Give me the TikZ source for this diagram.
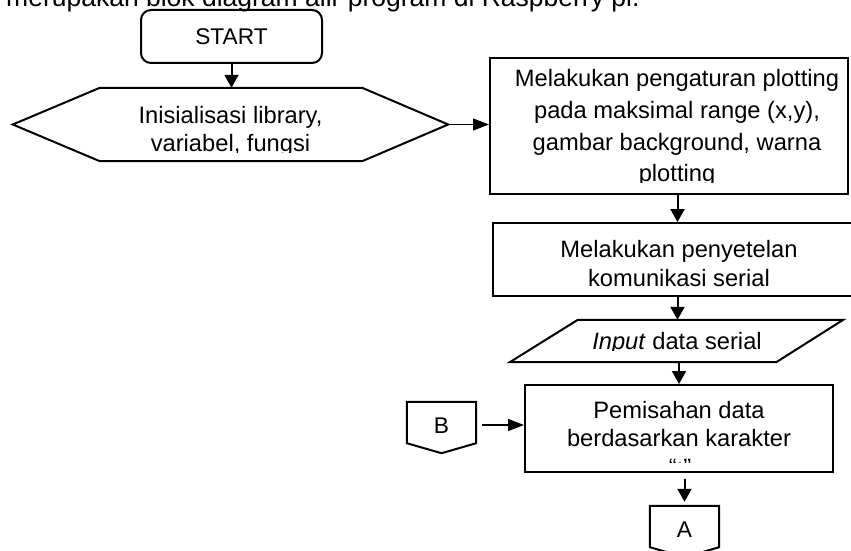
\documentclass[tikz,border=0pt]{standalone}
\usepackage{fontspec}
\setmainfont{Liberation Sans}
\usetikzlibrary{arrows.meta,calc}
\tikzset{
  shp/.style={draw, line width=2pt},
  ghost/.style={inner sep=0pt},
  txt/.style={font=\fontsize{23.7}{28}\selectfont, anchor=base, inner sep=0pt},
  arr/.style={line width=2pt, -{Triangle[width=14pt,length=13pt]}},
  tarr/.style={line width=1.2pt, -{Triangle[width=12pt,length=16pt]}},
}
\begin{document}
\begin{tikzpicture}[x=1pt,y=-1pt]
\useasboundingbox[fill=white] (0,0) rectangle (851,551);
\clip (0,0) rectangle (851,551);

% caption fragment (cut off at the top)
\node[font=\fontsize{26.5}{30}\selectfont, anchor=base west, inner sep=0pt] (cap) at (6,6.5)
  {merupakan blok diagram alir program di Raspberry pi.};

% START
\node[shp, rounded corners=10pt, minimum width=181pt, minimum height=53pt, inner sep=0pt,
      font=\fontsize{22.7}{27}\selectfont] (start) at (231.5,36.5) {START};

% hexagon (preparation)
\node[ghost, minimum width=435pt, minimum height=73pt] (hex) at (230.5,124.5) {};
\draw[shp] (hex.west) -- ($(hex.north west)+(87,0)$) -- ($(hex.north east)+(-86,0)$)
  -- (hex.east) -- ($(hex.south east)+(-86,0)$) -- ($(hex.south west)+(87,0)$) -- cycle;
\begin{scope}
  \clip (0,80) rectangle (460,152.5);
  \node[txt] at (230.5,123.3) {Inisialisasi library,};
  \node[txt] at (230.5,151.7) {variabel, fungsi};
\end{scope}

% box 1
\node[shp, minimum width=358pt, minimum height=136pt, inner sep=0pt] (box1) at (669,126) {};
\begin{scope}
  \clip (490,58) rectangle (851,182.8);
  \node[txt] at (677,86.7) {Melakukan pengaturan plotting};
  \node[txt] at (677,118.3) {pada maksimal range (x,y),};
  \node[txt] at (677,150) {gambar background, warna};
  \node[txt] at (677,181.5) {plotting};
\end{scope}

% box 2
\node[shp, minimum width=369pt, minimum height=73pt, inner sep=0pt] (box2) at (677.5,259.5) {};
\node[txt] at (679,257.5) {Melakukan penyetelan};
\node[txt] at (679,286.5) {komunikasi serial};

% parallelogram (input)
\node[ghost, minimum width=333pt, minimum height=42pt] (para) at (676.5,341) {};
\draw[shp] (para.south west) -- ($(para.north west)+(68,0)$) -- (para.north east)
  -- ($(para.south east)+(-67,0)$) -- cycle;
\begin{scope}
  \clip (500,318) rectangle (851,350.5);
  \node[txt] at (677,349.3) {\textit{Input} data serial};
\end{scope}

% box 3
\node[shp, minimum width=308pt, minimum height=87pt, inner sep=0pt] (pm) at (679,428.5) {};
\begin{scope}
  \clip (525,385) rectangle (833,462);
  \node[txt] at (679,418.3) {Pemisahan data};
  \node[txt] at (679,446.7) {berdasarkan karakter};
  \node[txt] at (680,475.1) {“;”};
\end{scope}

% off-page connector B
\node[ghost, minimum width=69pt, minimum height=41pt] (B) at (441.5,422.5) {};
\draw[shp] (B.south west) -- (B.north west) -- (B.north east) -- (B.south east)
  -- ($(B.south)+(0,10)$) -- cycle;
\node[font=\fontsize{22.7}{27}\selectfont, inner sep=0pt] (Bt) at (441.5,426) {B};

% off-page connector A
\node[ghost, minimum width=69pt, minimum height=41pt] (A) at (684.5,526.5) {};
\draw[shp] (A.south west) -- (A.north west) -- (A.north east) -- (A.south east)
  -- ($(A.south)+(0,10)$) -- cycle;
\node[font=\fontsize{22.7}{27}\selectfont, inner sep=0pt] (At) at (684.5,530) {A};

% connectors
\draw[arr] (start.south) -- (start.south |- hex.north);
\draw[tarr] (hex.east) -- (hex.east -| box1.west);
\draw[arr] (box1.south -| box2.north) -- (box2.north);
\draw[arr] (box2.south) -- (box2.south |- para.north);
\draw[arr] (para.south -| pm.north) -- (pm.north);
\coordinate (bout) at ($(B.east)+(6,2.5)$);
\draw[tarr] (bout) -- (bout -| pm.west);
\draw[arr, shorten <=6pt, shorten >=4pt] (pm.south -| A.north) -- (A.north);
\end{tikzpicture}
\end{document}
